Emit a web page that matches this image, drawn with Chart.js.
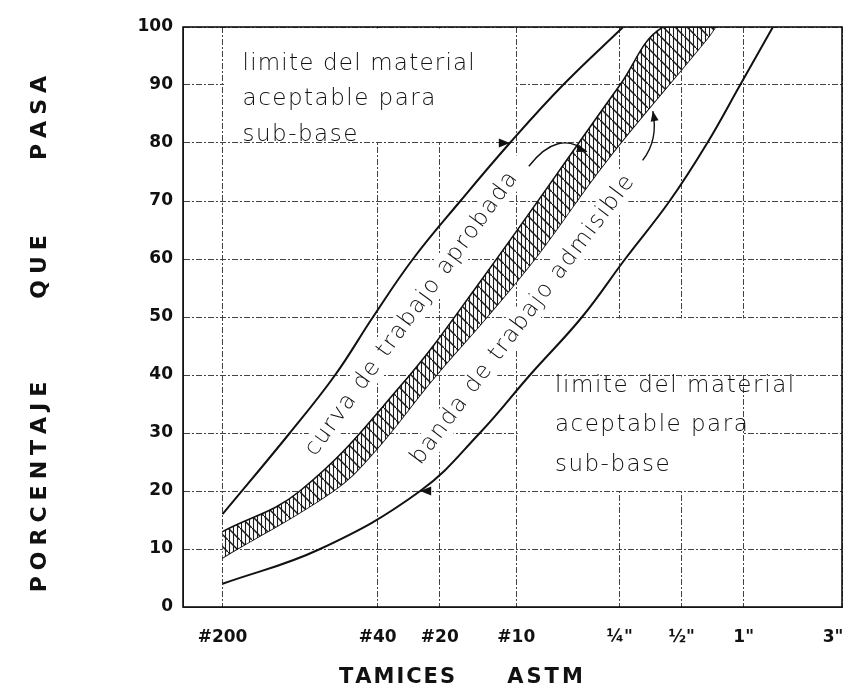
<!DOCTYPE html>
<html>
<head>
<meta charset="utf-8">
<script src="https://cdn.jsdelivr.net/npm/chart.js@4.4.1/dist/chart.umd.min.js"></script>
<style>
  html, body { margin: 0; padding: 0; background: #fff; }
</style>
</head>
<body>
<canvas id="chart" width="851" height="698"></canvas>
<script>
// ─────────────── DATA ───────────────
// sieve openings in mm (log axis) and the ASTM names printed under them
const sieveSizes = [0.075, 0.425, 0.85, 2.0, 6.35, 12.7, 25.4, 76.2];
const sieveLabels = ['#200', '#40', '#20', '#10', '¼"', '½"', '1"', '3"'];

// upper limit of acceptable sub-base material
const upperLimitSize = [0.075, 0.159, 0.264, 0.403, 0.63, 1.07, 1.86, 3.37, 6.6];
const upperLimitPass = [16, 30, 40, 50, 60, 70, 80, 90, 100];

// banda de trabajo admisible - top and bottom edges
const bandTopSize = [0.075, 0.178, 0.545, 1.33, 6.37, 10.3, 18.5];
const bandTopPass = [13, 20, 38, 56, 90, 100, 100];
const bandBottomSize = [0.075, 0.258, 0.403, 0.796, 1.44, 2.52, 5.5, 16.9, 18.5];
const bandBottomPass = [8.5, 20, 26.5, 39.5, 50, 60.5, 77, 98, 100];

// curva de trabajo aprobada
const approvedSize = [0.075, 0.178, 0.403, 1.93, 8.9, 13.9];
const approvedPass = [10.5, 16.5, 29, 60, 91, 100];

// lower limit of acceptable sub-base material
const lowerLimitSize = [0.075, 0.223, 0.683, 1.33, 2.33, 4.17, 6.75, 11.1, 16.9, 24.4, 35.2];
const lowerLimitPass = [4, 10, 20, 30, 40, 50, 60, 70, 80, 90, 100];

const points = (sizes, pass) => sizes.map((s, i) => ({ x: s, y: pass[i] }));

// ─────────────── HATCH FOR THE BAND ───────────────
const makeHatch = () => {
    const c = document.createElement('canvas');
    c.width = 12; c.height = 12;
    const g = c.getContext('2d');
    g.fillStyle = '#fff';
    g.fillRect(0, 0, 12, 12);
    g.strokeStyle = '#1a1a1a';
    g.lineWidth = 1.1;
    for (let x = 1.5; x < 12; x += 4) {
        g.beginPath(); g.moveTo(x, 0); g.lineTo(x, 12); g.stroke();
    }
    g.lineWidth = 1.5;
    g.beginPath(); g.moveTo(-2, -2); g.lineTo(14, 14); g.stroke();
    return g.createPattern(c, 'repeat');
};

// ─────────────── DRAW HELPERS ───────────────
// text with extra letter spacing; x is the left edge, or the centre when centred
const spacedText = (ctx, text, x, y, spacing, centred) => {
    const widths = [...text].map(ch => ctx.measureText(ch).width);
    const total = widths.reduce((a, b) => a + b, 0) + spacing * (widths.length - 1);
    let cx = centred ? x - total / 2 : x;
    ctx.textAlign = 'left';
    [...text].forEach((ch, i) => { ctx.fillText(ch, cx, y); cx += widths[i] + spacing; });
};

const arrowHead = (ctx, x, y, angle, size) => {
    ctx.save();
    ctx.translate(x, y);
    ctx.rotate(angle);
    ctx.beginPath();
    ctx.moveTo(0, 0);
    ctx.lineTo(-size, -size * 0.4);
    ctx.lineTo(-size, size * 0.4);
    ctx.closePath();
    ctx.fill();
    ctx.restore();
};

const noteFont = '200 23px "DejaVu Sans"';

const notes = {
    id: 'notes',
    beforeDatasetsDraw(chart) {
        const { ctx, scales: { x, y } } = chart;
        const box = (x0, x1, y0, y1) => {
            const l = x.getPixelForValue(x0) + 1.5, r = x.getPixelForValue(x1) - 1.5;
            const t = y.getPixelForValue(y1) + 1.5, b = y.getPixelForValue(y0) - 1.5;
            ctx.fillRect(l, t, r - l, b - t);
        };
        ctx.save();
        ctx.fillStyle = '#fff';
        box(0.075, 2.0, 80, 100);
        box(2.0, 76.2, 40, 50);
        box(2.0, 25.4, 20, 40);
        box(25.4, 76.2, 30, 40);
        ctx.restore();
    },
    afterDatasetsDraw(chart) {
        const { ctx, chartArea: a, scales: { x, y } } = chart;
        const px = v => x.getPixelForValue(v), py = v => y.getPixelForValue(v);
        ctx.save();
        ctx.fillStyle = '#111';
        ctx.strokeStyle = '#111';
        ctx.font = noteFont;
        ctx.textBaseline = 'alphabetic';

        // upper-left note
        const ulx = px(0.075) + 20;
        spacedText(ctx, 'limite del material', ulx, py(92.6), 1.2);
        spacedText(ctx, 'aceptable para', ulx, py(86.6), 1.5);
        spacedText(ctx, 'sub-base', ulx, py(80.4), 1.5);

        // lower-right note
        const lrx = px(3.08);
        spacedText(ctx, 'limite del material', lrx, py(37), 1.6);
        spacedText(ctx, 'aceptable para', lrx, py(30.3), 1.5);
        spacedText(ctx, 'sub-base', lrx, py(23.4), 1.5);

        // rotated labels along the band
        const along = (text, sx, sy, deg) => {
            ctx.save();
            ctx.translate(px(sx), py(sy));
            ctx.rotate(deg * Math.PI / 180);
            ctx.textBaseline = 'middle';
            ctx.fillStyle = '#fff';
            ctx.fillRect(-190, -13, 380, 26);
            ctx.fillStyle = '#111';
            spacedText(ctx, text, 0, 0, 1.6, true);
            ctx.restore();
        };
        along('curva de trabajo aprobada', 0.62, 50.5, -54);
        along('banda de trabajo admisible', 2.15, 49.5, -53);

        // leaders with arrow heads
        ctx.lineWidth = 1.4;
        ctx.beginPath();
        ctx.moveTo(px(2.3), py(76));
        ctx.quadraticCurveTo(px(3.2), py(82.5), px(4.4), py(78.5));
        ctx.stroke();
        arrowHead(ctx, px(4.4), py(78.5), 0.35, 10);

        ctx.beginPath();
        ctx.moveTo(px(8.2), py(77));
        ctx.quadraticCurveTo(px(9.8), py(80.5), px(9.2), py(85.5));
        ctx.stroke();
        arrowHead(ctx, px(9.2), py(85.5), -1.75, 10);

        arrowHead(ctx, px(1.86), py(80), 0, 11);
        arrowHead(ctx, px(0.683), py(20), Math.PI, 11);

        // frame
        ctx.lineWidth = 1.6;
        ctx.strokeRect(a.left, a.top, a.right - a.left, a.bottom - a.top);
        ctx.restore();
    },
    afterDraw(chart) {
        const { ctx } = chart;
        ctx.save();
        ctx.fillStyle = '#111';
        ctx.font = 'bold 22px "DejaVu Sans"';
        ctx.textBaseline = 'middle';
        // vertical axis title, word by word as in the print
        [['PORCENTAJE', 487], ['QUE', 267], ['PASA', 118]].forEach(([w, cy]) => {
            ctx.save();
            ctx.translate(40, cy);
            ctx.rotate(-Math.PI / 2);
            spacedText(ctx, w, 0, 0, 6, true);
            ctx.restore();
        });
        ctx.font = 'bold 21px "DejaVu Sans"';
        spacedText(ctx, 'TAMICES', 397, 678, 2, true);
        spacedText(ctx, 'ASTM', 545, 678, 3, true);
        ctx.restore();
    }
};

// ─────────────── CHART ───────────────
const lineSet = (data, width, extra) => Object.assign({
    data,
    borderColor: '#111',
    borderWidth: width,
    pointRadius: 0,
    fill: false,
    tension: 0.4
}, extra || {});

const gridStyle = { color: '#444', lineWidth: 1, drawTicks: false };
const borderStyle = { color: '#222', width: 1, dash: [6, 2, 2, 2] };

new Chart(document.getElementById('chart'), {
    type: 'line',
    data: {
        datasets: [
            lineSet(points(upperLimitSize, upperLimitPass), 2),
            lineSet(points(bandTopSize, bandTopPass), 1.6, { fill: '+1', backgroundColor: makeHatch() }),
            lineSet(points(bandBottomSize, bandBottomPass), 1.6),
            lineSet(points(approvedSize, approvedPass), 1.6),
            lineSet(points(lowerLimitSize, lowerLimitPass), 2)
        ]
    },
    options: {
        responsive: false,
        animation: false,
        events: [],
        layout: { padding: { top: 27, right: 9, left: 0, bottom: 0 } },
        plugins: { legend: { display: false }, tooltip: { enabled: false } },
        scales: {
            x: {
                type: 'logarithmic',
                min: 0.0482,
                max: 76.2,
                afterBuildTicks: s => { s.ticks = sieveSizes.map(v => ({ value: v })); },
                afterFit: s => { s.height = 91; s.paddingLeft = 0; s.paddingRight = 0; },
                ticks: {
                    autoSkip: false,
                    maxRotation: 0,
                    padding: 20,
                    color: '#111',
                    font: { family: 'DejaVu Sans', size: 17, weight: 'bold' },
                    callback: v => {
                        const i = sieveSizes.indexOf(v);
                        if (i < 0) return '';
                        // last label sits against the frame, pulled inside like the print
                        return i === sieveSizes.length - 1 ? sieveLabels[i] + '\u00a0\u00a0\u00a0' : sieveLabels[i];
                    }
                },
                grid: gridStyle,
                border: borderStyle
            },
            y: {
                min: 0,
                max: 100,
                afterFit: s => { s.width = 183; s.paddingTop = 0; s.paddingBottom = 0; },
                ticks: {
                    stepSize: 10,
                    padding: 10,
                    color: '#111',
                    font: { family: 'DejaVu Sans', size: 17, weight: 'bold' }
                },
                grid: gridStyle,
                border: borderStyle
            }
        }
    },
    plugins: [notes]
});
</script>
</body>
</html>
